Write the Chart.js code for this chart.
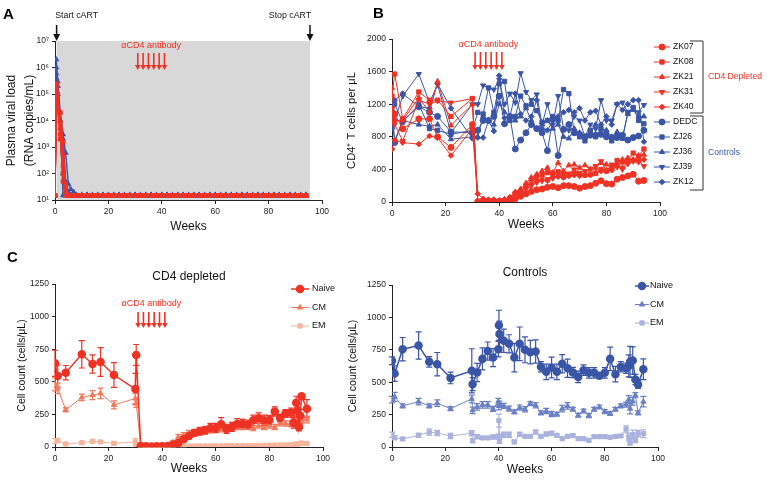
<!DOCTYPE html>
<html>
<head>
<meta charset="utf-8">
<script src="https://cdn.jsdelivr.net/npm/chart.js@4.4.1/dist/chart.umd.min.js"></script>
<style>
  body { margin: 0; width: 767px; height: 480px; position: relative; background: #fff; overflow: hidden; font-family: "Liberation Sans", Arial, sans-serif; }
  canvas { position: absolute; }
  .panel { position: absolute; font-weight: bold; font-size: 15px; line-height: 1; color: #000; }
</style>
</head>
<body>
<canvas id="chartA" width="340" height="240" style="left:0;top:0"></canvas>
<canvas id="chartB" width="427" height="240" style="left:340px;top:0"></canvas>
<canvas id="chartC1" width="380" height="240" style="left:0;top:240px"></canvas>
<canvas id="chartC2" width="427" height="240" style="left:340px;top:240px"></canvas>
<div class="panel" style="left:3px;top:6px">A</div>
<div class="panel" style="left:373px;top:5px">B</div>
<div class="panel" style="left:7px;top:249px">C</div>
<script>
const RED = '#ee3224';
const BLUE = '#3a55a5';
const antibodyWeeks = [31, 33, 35, 37, 39, 41];

// ---- panel A: plasma viral load (copies/mL) ----
const weeksAEarly = [0, 0.5, 1, 2, 3, 4, 5, 6, 7];
const weeksATail = [8, 10, 12, 14, 16, 18, 20, 22, 24, 26, 28, 30, 32, 34, 36, 38, 40, 42, 44, 46, 48, 50,
  52, 54, 56, 58, 60, 62, 64, 66, 68, 70, 72, 74, 76, 78, 80, 82, 84, 86, 88, 90, 92, 94];
const vlTail = [15, 15, 15, 15, 15, 15, 15, 15, 15, 15, 15, 15, 15, 15, 15, 15, 15, 15, 15, 15, 15, 15,
  15, 15, 15, 15, 15, 15, 15, 15, 15, 15, 15, 15, 15, 15, 15, 15, 15, 15, 15, 15, 15, 15];
const vlZK07 = [15, 2.0e5, 8e4, 2.0e4, 1.5e3, 30, 15, 15, 15];
const vlZK08 = [15, 1.5e5, 3e4, 5e3, 200, 15, 15, 15, 15];
const vlZK21 = [15, 2.5e5, 1e5, 3e3, 50, 20, 15, 15, 15];
const vlZK31 = [15, 1.0e5, 2e4, 8e3, 500, 15, 15, 15, 15];
const vlZK40 = [15, 6e4, 3e4, 2e3, 100, 40, 15, 15, 15];
const vlDEDC = [8e4, 2e6, 3e5, 2e4, 3e3, 600, 40, 25, 20];
const vlZJ26 = [15, 4e5, 1e5, 1e4, 15, 15, 15, 15, 15];
const vlZJ36 = [15, 6e5, 2e5, 5e3, 800, 30, 20, 15, 15];
const vlZJ39 = [15, 3e5, 1e5, 2e3, 100, 20, 15, 15, 15];
const vlZK12 = [15, 1e6, 2e5, 1e4, 2e3, 50, 15, 15, 15];

// ---- panel B: CD4+ T cells per uL ----
const weeksB = [0, 1, 4, 10, 14, 17, 22, 30, 32, 34, 36, 38, 40, 42, 44, 46, 48, 50, 52, 54, 56, 58, 60,
  62, 64, 66, 68, 70, 72, 74, 76, 78, 80, 82, 84, 86, 88, 90, 92, 94];
const cd4ZK07 = [1000, 1080, 900, 1020, 1020, 800, 670, 950, 5, 5, 3, 3, 5, 8, 15, 40, 70, 100, 130, 150, 160, 180, 190,
  175, 200, 200, 190, 170, 190, 200, 230, 260, 225, 220, 280, 300, 320, 340, 255, 265];
const cd4ZK08 = [1300, 1570, 1020, 1350, 1250, 1250, 1050, 1270, 0, 10, 15, 10, 10, 20, 30, 100, 130, 200, 280, 300, 330, 360, 350,
  370, 310, 330, 350, 340, 330, 340, 350, 400, 380, 420, 510, 490, 510, 600, 560, 650];
const cd4ZK21 = [1400, 1000, 1000, 1280, 1100, 1480, 940, 1200, 5, 15, 20, 15, 15, 30, 50, 120, 160, 230, 300, 340, 380, 420, 360,
  480, 380, 450, 460, 420, 450, 400, 420, 480, 460, 440, 480, 520, 540, 510, 570, 580];
const cd4ZK31 = [1150, 950, 750, 1250, 1200, 1240, 1220, 1270, 5, 10, 15, 10, 15, 20, 30, 60, 110, 160, 200, 240, 260, 280, 290,
  320, 340, 350, 400, 360, 380, 410, 440, 500, 380, 460, 430, 400, 470, 500, 510, 440];
const cd4ZK40 = [650, 760, 730, 710, 810, 790, 570, 900, 100, 40, 30, 30, 20, 30, 60, 120, 140, 180, 220, 250, 270, 260, 300,
  310, 300, 320, 330, 320, 330, 330, 360, 380, 390, 390, 440, 420, 480, 520, 490, 520];
const cd4DEDC = [1050, 730, 1000, 1170, 1100, 1050, 860, 850, 880, 1000, 1000, 1050, 1300, 960, 1050, 650, 760, 850, 950, 900, 850, 630, 1020,
  570, 890, 950, 850, 830, 800, 820, 820, 830, 800, 790, 790, 820, 760, 790, 810, 880];
const cd4ZJ26 = [1100, 1200, 980, 1200, 900, 880, 830, 880, 1100, 1080, 1400, 1100, 1450, 1480, 1000, 1050, 1300, 1180, 1200, 1120, 980, 1000, 1050,
  1000, 1380, 1330, 850, 800, 750, 880, 800, 900, 850, 750, 820, 780, 1100, 1160, 1000, 960];
const cd4ZJ36 = [1130, 750, 1000, 950, 930, 950, 770, 800, 800, 1050, 1000, 950, 1200, 1100, 1050, 1000, 1050, 1150, 1000, 900, 950, 1000, 900,
  950, 800, 780, 900, 850, 800, 850, 950, 900, 880, 800, 860, 800, 1080, 1130, 1050, 1050];
const cd4ZJ39 = [1200, 1000, 1300, 1570, 1220, 1440, 850, 1200, 1200, 1430, 1400, 1380, 1500, 1200, 1330, 1220, 1580, 1350, 1250, 1320, 950, 1200, 950,
  1300, 900, 880, 1050, 1000, 800, 950, 900, 1250, 1000, 1000, 1200, 1220, 1100, 1150, 1100, 1190];
const cd4ZK12 = [900, 1250, 1330, 1170, 1150, 1450, 1150, 780, 790, 790, 1000, 870, 1550, 1030, 1050, 1330, 1080, 1000, 1050, 1250, 900, 880, 1000,
  1050, 1100, 1130, 1100, 1150, 1000, 1100, 1120, 950, 1050, 950, 1200, 1130, 1200, 1250, 1250, 740];

// ---- panel C: subsets, mean +/- error (cells/uL) ----
const weeksDep = [0, 1, 4, 10, 14, 17, 22, 30, 30.3, 32, 34, 36, 38, 40, 42, 44, 46, 48, 50, 52, 54, 56, 58, 60, 62, 64,
  66, 68, 70, 72, 74, 76, 78, 80, 82, 84, 86, 88, 89, 90, 90.5, 91, 91.5, 92, 94];
const depNaive = [642, 544, 570, 711, 637, 652, 552, 444, 706, 8, 5, 4, 5, 5, 8, 20, 31, 59, 85, 108, 120, 128, 146, 146, 175, 139,
  154, 177, 177, 172, 205, 221, 205, 208, 272, 223, 257, 264, 185, 339, 282, 154, 239, 390, 293];
const depNaiveErr = [100, 85, 55, 105, 70, 110, 95, 120, 80, 5, 5, 5, 5, 5, 5, 8, 15, 20, 22, 25, 30, 30, 35, 35, 50, 35,
  35, 40, 35, 35, 40, 40, 40, 35, 35, 30, 30, 35, 40, 50, 45, 30, 50, 10, 70];
const depCM = [480, 450, 285, 380, 398, 411, 323, 372, 334, 5, 4, 4, 4, 5, 8, 36, 77, 90, 108, 115, 128, 133, 128, 139, 136, 146,
  149, 154, 154, 159, 146, 164, 154, 164, 154, 182, 180, 177, 192, 203, 180, 185, 195, 203, 210];
const depCMErr = [50, 40, 15, 25, 35, 40, 30, 40, 30, 3, 3, 3, 3, 3, 5, 10, 20, 20, 20, 20, 20, 20, 20, 20, 20, 20,
  20, 20, 20, 20, 20, 20, 20, 20, 20, 20, 20, 20, 20, 25, 20, 20, 20, 25, 25];
const depEM = [45, 50, 23, 33, 44, 39, 28, 39, 21, 2, 2, 2, 2, 2, 2, 3, 5, 6, 7, 7, 8, 8, 8, 9, 9, 10,
  10, 10, 11, 11, 12, 12, 13, 14, 14, 15, 16, 18, 20, 22, 25, 24, 28, 30, 26];
const depEMErr = [20, 15, 8, 10, 10, 10, 10, 25, 10, 1, 1, 1, 1, 1, 1, 2, 3, 3, 3, 3, 4, 4, 4, 4, 4, 4,
  4, 4, 5, 5, 5, 5, 5, 6, 6, 6, 6, 8, 10, 12, 10, 10, 12, 12, 10];

const weeksCtl = [0, 1, 4, 10, 14, 17, 22, 30, 30.3, 32, 34, 36, 38, 40, 40.2, 40.4, 42, 44, 46, 48, 50, 52, 54, 56, 58,
  60, 62, 64, 66, 68, 70, 72, 74, 76, 78, 80, 82, 84, 86, 88, 89, 89.5, 90.5, 91.5, 92.5, 94.5];
const ctlNaive = [665, 567, 755, 783, 657, 639, 533, 588, 485, 575, 680, 740, 690, 755, 940, 871, 820, 796, 690, 796, 750, 732, 737, 619, 580,
  613, 580, 642, 608, 575, 541, 593, 572, 572, 549, 572, 680, 562, 619, 608, 626, 657, 668, 521, 482, 600];
const ctlNaiveErr = [30, 60, 90, 105, 40, 90, 45, 170, 50, 70, 85, 70, 70, 60, 115, 100, 90, 70, 110, 130, 100, 90, 90, 40, 60,
  80, 60, 70, 70, 40, 45, 40, 40, 40, 10, 40, 90, 60, 40, 40, 85, 120, 105, 40, 30, 80];
const ctlCM = [366, 387, 317, 350, 317, 338, 296, 371, 283, 309, 325, 325, 294, 350, 317, 330, 317, 296, 271, 304, 291, 335, 322, 263, 278,
  255, 253, 296, 317, 291, 245, 278, 242, 291, 309, 273, 258, 291, 317, 327, 366, 296, 353, 400, 263, 350];
const ctlCMErr = [25, 35, 15, 25, 15, 25, 15, 30, 25, 25, 25, 25, 20, 25, 30, 25, 20, 20, 15, 20, 20, 15, 20, 15, 20,
  20, 15, 25, 25, 15, 15, 15, 15, 15, 15, 15, 15, 15, 15, 20, 30, 40, 30, 20, 15, 40];
const ctlEM = [95, 72, 62, 90, 116, 108, 85, 106, 49, 80, 70, 70, 77, 80, 204, 44, 95, 95, 39, 98, 82, 82, 116, 82, 100,
  106, 90, 64, 82, 88, 64, 64, 52, 80, 80, 80, 75, 82, 85, 139, 75, 34, 95, 54, 103, 103];
const ctlEMErr = [20, 15, 10, 15, 25, 20, 20, 20, 15, 15, 10, 10, 15, 20, 50, 15, 20, 20, 10, 15, 10, 10, 15, 10, 15,
  15, 10, 10, 10, 10, 10, 10, 10, 10, 10, 10, 10, 10, 10, 25, 30, 20, 35, 20, 25, 30];

const sup = ['\u2070', '\u00b9', '\u00b2', '\u00b3', '\u2074', '\u2075', '\u2076', '\u2077'];
const decades = [1e1, 1e2, 1e3, 1e4, 1e5, 1e6, 1e7];

const FONT = '"Liberation Sans", Arial, sans-serif';
Chart.defaults.font.family = FONT;
Chart.defaults.color = '#222';

const pts = (weeks, vals) => weeks.map((w, i) => ({ x: w, y: vals[i] }));

// everything around the plotted data: shading, arrows, error bars, legends
const decor = {
  id: 'decor',
  beforeDraw(chart, args, o) {
    if (!o.shade) return;
    const { ctx, chartArea: a, scales: { x } } = chart;
    const x0 = x.getPixelForValue(o.shade[0]);
    const x1 = x.getPixelForValue(o.shade[1]);
    ctx.save();
    ctx.fillStyle = '#d8d8d8';
    ctx.fillRect(x0, a.top, x1 - x0, a.bottom - a.top);
    ctx.restore();
  },
  beforeDatasetsDraw(chart) {
    const { ctx, scales: { y } } = chart;
    chart.data.datasets.forEach((ds, i) => {
      if (!ds.errors) return;
      const meta = chart.getDatasetMeta(i);
      ctx.save();
      ctx.strokeStyle = ds.borderColor;
      ctx.lineWidth = 1.2;
      meta.data.forEach((p, j) => {
        const v = ds.data[j].y, e = ds.errors[j];
        const yt = y.getPixelForValue(v + e);
        const yb = y.getPixelForValue(Math.max(v - e, 0));
        ctx.beginPath();
        ctx.moveTo(p.x, yt); ctx.lineTo(p.x, yb);
        ctx.moveTo(p.x - 3, yt); ctx.lineTo(p.x + 3, yt);
        ctx.moveTo(p.x - 3, yb); ctx.lineTo(p.x + 3, yb);
        ctx.stroke();
      });
      ctx.restore();
    });
  },
  afterDraw(chart, args, o) {
    const { ctx, chartArea: a, scales: { x } } = chart;
    ctx.save();
    if (o.antibody) {
      const ab = o.antibody;
      ctx.fillStyle = RED; ctx.strokeStyle = RED;
      ctx.font = '9px ' + FONT;
      ctx.textAlign = 'center'; ctx.textBaseline = 'middle';
      ctx.fillText('\u03b1CD4 antibody', x.getPixelForValue(36), ab.textY);
      ctx.lineWidth = 1.6;
      antibodyWeeks.forEach(w => {
        const px = x.getPixelForValue(w);
        ctx.beginPath(); ctx.moveTo(px, ab.top); ctx.lineTo(px, ab.bottom - 4); ctx.stroke();
        ctx.beginPath();
        ctx.moveTo(px - 2.8, ab.bottom - 5); ctx.lineTo(px + 2.8, ab.bottom - 5); ctx.lineTo(px, ab.bottom);
        ctx.closePath(); ctx.fill();
      });
    }
    if (o.cart) {
      ctx.fillStyle = '#111'; ctx.strokeStyle = '#111';
      ctx.font = '8.8px ' + FONT;
      ctx.textAlign = 'center'; ctx.textBaseline = 'middle';
      o.cart.forEach(c => {
        const px = x.getPixelForValue(c.week);
        ctx.fillText(c.text, px + c.dx, 16);
        ctx.lineWidth = 1.5;
        ctx.beginPath(); ctx.moveTo(px, 25); ctx.lineTo(px, a.top - 4); ctx.stroke();
        ctx.beginPath();
        ctx.moveTo(px - 3.5, a.top - 7); ctx.lineTo(px + 3.5, a.top - 7); ctx.lineTo(px, a.top);
        ctx.closePath(); ctx.fill();
      });
    }
    if (o.title) {
      ctx.fillStyle = '#111';
      ctx.font = '12px ' + FONT;
      ctx.textAlign = 'center'; ctx.textBaseline = 'middle';
      ctx.fillText(o.title.text, (a.left + a.right) / 2, o.title.y);
    }
    if (o.legend) {
      const lg = o.legend;
      ctx.font = lg.font;
      ctx.textAlign = 'left'; ctx.textBaseline = 'middle';
      chart.data.datasets.forEach((ds, i) => {
        const yy = lg.y0 + i * lg.dy;
        ctx.strokeStyle = ds.borderColor; ctx.fillStyle = ds.borderColor;
        ctx.lineWidth = ds.borderWidth;
        ctx.beginPath(); ctx.moveTo(lg.x - lg.half, yy); ctx.lineTo(lg.x + lg.half, yy); ctx.stroke();
        Chart.helpers.drawPoint(ctx, { pointStyle: ds.pointStyle, rotation: ds.pointRotation || 0, radius: ds.pointRadius, borderWidth: 1 }, lg.x, yy);
        ctx.fillStyle = '#111';
        ctx.fillText(ds.label, lg.textX, yy);
      });
    }
    if (o.brackets) {
      ctx.lineWidth = 1; ctx.strokeStyle = '#333';
      ctx.font = '8.6px ' + FONT;
      ctx.textAlign = 'left'; ctx.textBaseline = 'middle';
      o.brackets.forEach(b => {
        ctx.beginPath();
        ctx.moveTo(b.x0, b.top); ctx.lineTo(b.x1, b.top); ctx.lineTo(b.x1, b.bottom); ctx.lineTo(b.x0, b.bottom);
        ctx.stroke();
        ctx.fillStyle = b.color;
        ctx.fillText(b.text, b.x1 + 5, (b.top + b.bottom) / 2);
      });
    }
    ctx.restore();
  }
};

function weekAxis(height, padBottom) {
  return {
    type: 'linear', min: 0, max: 100,
    afterFit: s => { s.height = height; },
    ticks: { stepSize: 20, font: { size: 8.5 }, color: '#222', padding: 3, maxRotation: 0 },
    grid: { display: true, drawOnChartArea: false, drawTicks: true, tickLength: 4, color: '#222' },
    border: { color: '#222', width: 1 },
    title: { display: true, text: 'Weeks', font: { size: 12, lineHeight: 1.2 }, color: '#111', padding: { top: 0, bottom: padBottom } }
  };
}

function valueAxis(width, title, titleSize, titlePad, max, step) {
  return {
    type: 'linear', min: 0, max: max,
    afterFit: s => { s.width = width; },
    ticks: { stepSize: step, font: { size: 8.5 }, color: '#222', padding: 3, callback: v => String(v) },
    grid: { display: true, drawOnChartArea: false, drawTicks: true, tickLength: 3, color: '#222' },
    border: { color: '#222', width: 1 },
    title: { display: true, text: title, font: { size: titleSize, lineHeight: 1.2 }, color: '#111', padding: { top: titlePad, bottom: 0 } }
  };
}

function series(label, weeks, vals, color, style, radius, extra) {
  return Object.assign({
    label, data: pts(weeks, vals), borderColor: color, backgroundColor: color,
    pointBackgroundColor: color, pointBorderColor: color, pointStyle: style, pointRadius: radius,
    borderWidth: 1, tension: 0
  }, extra || {});
}

const baseOpts = { responsive: false, maintainAspectRatio: false, animation: false, events: [] };

// ---- A ----
const aEarly = [
  ['ZK07', vlZK07, RED], ['ZK08', vlZK08, RED], ['ZK21', vlZK21, RED], ['ZK31', vlZK31, RED], ['ZK40', vlZK40, RED],
  ['DEDC', vlDEDC, BLUE], ['ZJ26', vlZJ26, BLUE], ['ZJ36', vlZJ36, BLUE], ['ZJ39', vlZJ39, BLUE], ['ZK12', vlZK12, BLUE]
];
const weeksA = weeksAEarly.concat(weeksATail);
new Chart(document.getElementById('chartA'), {
  type: 'line',
  data: {
    datasets: aEarly.map(([name, early, color]) =>
      series(name, weeksA, early.concat(vlTail), color, color === RED ? 'rect' : 'triangle', 2.2, { borderWidth: 1.4 }))
  },
  options: Object.assign({}, baseOpts, {
    layout: { padding: { left: 0, top: 41, right: 18, bottom: 0 } },
    plugins: {
      legend: { display: false }, tooltip: { enabled: false },
      decor: {
        shade: [0.6, 95.5],
        antibody: { textY: 46, top: 53, bottom: 70 },
        cart: [{ week: 0.6, text: 'Start cART', dx: 20 }, { week: 95.5, text: 'Stop cART', dx: -20 }]
      }
    },
    scales: {
      x: weekAxis(40, 6),
      y: {
        type: 'logarithmic', min: 10, max: 1e7,
        afterFit: s => { s.width = 55; },
        afterBuildTicks: s => { s.ticks = decades.map(v => ({ value: v })); },
        ticks: { font: { size: 8.5 }, color: '#222', padding: 3, callback: v => '10' + sup[Math.round(Math.log10(v))] },
        grid: { display: true, drawOnChartArea: false, drawTicks: true, tickLength: 3, color: '#222' },
        border: { color: '#222', width: 1 },
        title: { display: true, text: ['Plasma viral load', '(RNA copies/mL)'], font: { size: 12, lineHeight: 1.46 }, color: '#111', padding: { top: 3, bottom: 0 } }
      }
    }
  }),
  plugins: [decor]
});

// ---- B ----
const bSeries = [
  ['ZK07', cd4ZK07, RED, 'circle', 0], ['ZK08', cd4ZK08, RED, 'rect', 0], ['ZK21', cd4ZK21, RED, 'triangle', 0],
  ['ZK31', cd4ZK31, RED, 'triangle', 180], ['ZK40', cd4ZK40, RED, 'rectRot', 0],
  ['DEDC', cd4DEDC, BLUE, 'circle', 0], ['ZJ26', cd4ZJ26, BLUE, 'rect', 0], ['ZJ36', cd4ZJ36, BLUE, 'triangle', 0],
  ['ZJ39', cd4ZJ39, BLUE, 'triangle', 180], ['ZK12', cd4ZK12, BLUE, 'rectRot', 0]
];
new Chart(document.getElementById('chartB'), {
  type: 'line',
  data: {
    datasets: bSeries.map(([name, vals, color, style, rot]) =>
      series(name, weeksB, vals, color, style, style === 'rectRot' ? 2.8 : 3, { pointRotation: rot }))
  },
  options: Object.assign({}, baseOpts, {
    layout: { padding: { left: 0, top: 39, right: 107, bottom: 0 } },
    plugins: {
      legend: { display: false }, tooltip: { enabled: false },
      decor: {
        antibody: { textY: 45, top: 52, bottom: 70 },
        legend: { x: 322, half: 8, textX: 333, y0: 47, dy: 15, font: '8.6px ' + FONT },
        brackets: [
          { x0: 350, x1: 363, top: 41, bottom: 113, text: 'CD4 Depleted', color: RED },
          { x0: 350, x1: 363, top: 116, bottom: 190, text: 'Controls', color: BLUE }
        ]
      }
    },
    scales: {
      x: weekAxis(38, 8),
      y: valueAxis(52, 'CD4\u207a T cells per \u03bcL', 11.2, 5.5, 2000, 400)
    }
  }),
  plugins: [decor]
});

// ---- C, depleted ----
new Chart(document.getElementById('chartC1'), {
  type: 'line',
  data: {
    datasets: [
      series('Naive', weeksDep, depNaive, '#ee3224', 'circle', 3.5, { errors: depNaiveErr, borderWidth: 1.5 }),
      series('CM', weeksDep, depCM, '#f2795c', 'triangle', 3, { errors: depCMErr }),
      series('EM', weeksDep, depEM, '#f7b49e', 'rect', 3, { errors: depEMErr })
    ]
  },
  options: Object.assign({}, baseOpts, {
    layout: { padding: { left: 0, top: 44, right: 57, bottom: 0 } },
    plugins: {
      legend: { display: false }, tooltip: { enabled: false },
      decor: {
        title: { text: 'CD4 depleted', y: 37 },
        antibody: { textY: 64, top: 72, bottom: 88 },
        legend: { x: 300, half: 9, textX: 312, y0: 49, dy: 18.5, font: '9px ' + FONT }
      }
    },
    scales: {
      x: weekAxis(33, 4),
      y: valueAxis(55, 'Cell count (cells/\u03bcL)', 10.5, 15.5, 1250, 250)
    }
  }),
  plugins: [decor]
});

// ---- C, controls ----
new Chart(document.getElementById('chartC2'), {
  type: 'line',
  data: {
    datasets: [
      series('Naive', weeksCtl, ctlNaive, '#3a55a5', 'circle', 3.5, { errors: ctlNaiveErr, borderWidth: 1.5 }),
      series('CM', weeksCtl, ctlCM, '#6b80c4', 'triangle', 3, { errors: ctlCMErr }),
      series('EM', weeksCtl, ctlEM, '#a9b2dd', 'rect', 3, { errors: ctlEMErr })
    ]
  },
  options: Object.assign({}, baseOpts, {
    layout: { padding: { left: 0, top: 45, right: 109, bottom: 0 } },
    plugins: {
      legend: { display: false }, tooltip: { enabled: false },
      decor: {
        title: { text: 'Controls', y: 33 },
        legend: { x: 302, half: 7, textX: 310, y0: 46, dy: 18.5, font: '9px ' + FONT }
      }
    },
    scales: {
      x: weekAxis(33, 3),
      y: valueAxis(52, 'Cell count (cells/\u03bcL)', 10.5, 6.7, 1250, 250)
    }
  }),
  plugins: [decor]
});
</script>
</body>
</html>
